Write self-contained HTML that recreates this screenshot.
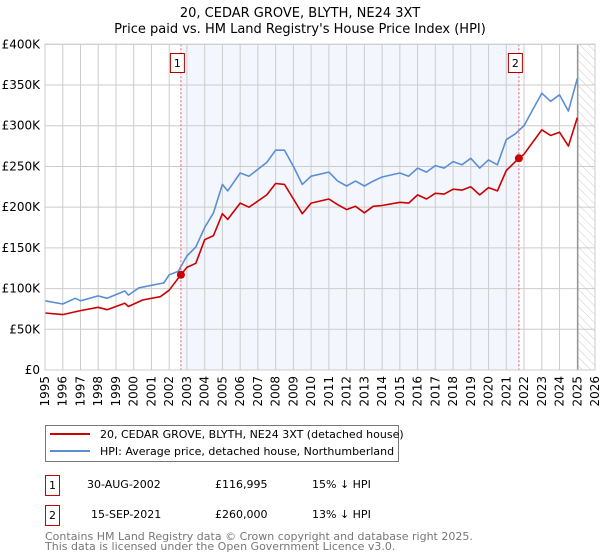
<!DOCTYPE html>
<html><head><meta charset="utf-8"><style>
body{margin:0;background:#fff;}
svg{display:block;font-family:"DejaVu Sans","Liberation Sans",sans-serif;}
</style></head><body>
<svg id="chart" width="600" height="560" viewBox="0 0 600 560">
<defs>
<pattern id="hatch" width="6" height="6" patternUnits="userSpaceOnUse" patternTransform="rotate(-45)">
<line x1="0" y1="0" x2="0" y2="6" stroke="#ccc" stroke-width="1"/>
</pattern>
</defs>
<text x="300" y="17" text-anchor="middle" font-size="13">20, CEDAR GROVE, BLYTH, NE24 3XT</text>
<text x="300" y="33" text-anchor="middle" font-size="13">Price paid vs. HM Land Registry's House Price Index (HPI)</text>
<g id="plot"></g>
<g>
<rect x="45.5" y="425.5" width="353" height="36" fill="#fff" stroke="#777"/>
<line x1="50" y1="434" x2="90" y2="434" stroke="#cc0000" stroke-width="2"/>
<text x="100" y="438" font-size="11">20, CEDAR GROVE, BLYTH, NE24 3XT (detached house)</text>
<line x1="50" y1="451" x2="90" y2="451" stroke="#5b8fd4" stroke-width="2"/>
<text x="100" y="455" font-size="11">HPI: Average price, detached house, Northumberland</text>
</g>
<g font-size="11">
<rect x="45.5" y="475.5" width="14" height="20" fill="#fff" stroke="#cc0000"/>
<text x="52.5" y="489" text-anchor="middle">1</text>
<text x="87" y="488">30-AUG-2002</text>
<text x="215" y="488">£116,995</text>
<text x="312" y="488">15% ↓ HPI</text>
<rect x="45.5" y="505.5" width="14" height="20" fill="#fff" stroke="#cc0000"/>
<text x="52.5" y="519" text-anchor="middle">2</text>
<text x="91" y="518">15-SEP-2021</text>
<text x="215" y="518">£260,000</text>
<text x="312" y="518">13% ↓ HPI</text>
</g>
<text x="45" y="540" font-size="11" fill="#777">Contains HM Land Registry data © Crown copyright and database right 2025.</text>
<text x="45" y="550" font-size="11" fill="#777">This data is licensed under the Open Government Licence v3.0.</text>
</svg>
<script>
const hpiYears=[1995,1996,1996.7,1997,1998,1998.5,1999.5,1999.7,2000.3,2001,2001.7,2002,2002.5,2003,2003.5,2004,2004.5,2005,2005.3,2006,2006.5,2007.5,2008,2008.5,2009,2009.5,2010,2011,2011.5,2012,2012.5,2013,2013.5,2014,2015,2015.5,2016,2016.5,2017,2017.5,2018,2018.5,2019,2019.5,2020,2020.5,2021,2021.5,2022,2022.5,2023,2023.5,2024,2024.5,2025];
const hpiValues=[85,81,88,85,91,88,97,92,101,104,107,117,121,140,151,175,193,228,220,242,238,255,270,270,250,228,238,243,232,226,232,226,232,237,242,238,248,243,251,248,256,252,260,248,258,252,283,290,300,320,340,330,338,318,358];
const ppYears=[1995,1996,1997,1998,1998.5,1999.5,1999.7,2000.5,2001.5,2002,2002.66,2003,2003.5,2004,2004.5,2005,2005.3,2006,2006.5,2007.5,2008,2008.5,2009,2009.5,2010,2011,2011.5,2012,2012.5,2013,2013.5,2014,2015,2015.5,2016,2016.5,2017,2017.5,2018,2018.5,2019,2019.5,2020,2020.5,2021,2021.7,2022,2022.5,2023,2023.5,2024,2024.5,2025];
const ppValues=[70,68,73,77,74,82,78,86,90,98,117,126,131,160,165,192,185,205,200,215,229,228,210,192,205,210,203,197,201,193,201,202,206,205,215,210,217,216,222,221,225,215,224,220,245,260,265,280,295,288,292,275,310];
const saleYears=[2002.66,2021.71];
const saleValues=[116.995,260];
const saleLabels=["1","2"];
const yTicks=[0,50,100,150,200,250,300,350,400];
const yTickLabels=["£0","£50K","£100K","£150K","£200K","£250K","£300K","£350K","£400K"];
const xTicks=[1995,1996,1997,1998,1999,2000,2001,2002,2003,2004,2005,2006,2007,2008,2009,2010,2011,2012,2013,2014,2015,2016,2017,2018,2019,2020,2021,2022,2023,2024,2025,2026];
const X0=45,X1=595,Y0=370,Y1=44.3;
const xs=y=>X0+(y-1995)/31*(X1-X0);
const ys=v=>Y0-v/400*(Y0-Y1);
const NS="http://www.w3.org/2000/svg";
const g=document.getElementById('plot');
function mk(t,a){const e=document.createElementNS(NS,t);for(const k in a)e.setAttribute(k,a[k]);g.appendChild(e);return e;}
let e=mk('rect',{x:xs(saleYears[0]),y:Y1,width:xs(saleYears[1])-xs(saleYears[0]),height:Y0-Y1,fill:'#eef2fc',opacity:0.7});


e=mk('rect',{x:xs(2025.03),y:Y1,width:X1-xs(2025.03),height:Y0-Y1,fill:'url(#hatch)'});


xTicks.forEach(t=>{
 let l=mk('line',{x1:xs(t),x2:xs(t),y1:Y1,y2:Y0,stroke:'#ccc','stroke-width':1});
 
 
 const x=xs(t)+4;
 let tx=mk('text',{x:x,y:376,'font-size':12,'text-anchor':'end',transform:`rotate(-90 ${x} 376)`});
 tx.textContent=t;
 
 
});
yTicks.forEach((t,i)=>{
 let l=mk('line',{x1:X0,x2:X1,y1:ys(t),y2:ys(t),stroke:'#ccc','stroke-width':1});
 
 
 let tx=mk('text',{x:40,y:ys(t)+4,'font-size':12,'text-anchor':'end'});
 tx.textContent=yTickLabels[i];
 
 
});
e=mk('line',{x1:xs(2025.03),x2:xs(2025.03),y1:Y1,y2:Y0,stroke:'#888','stroke-width':1.2});


function path(xa,va,c,n){
 const d=xa.map((y,i)=>(i?'L':'M')+xs(y).toFixed(1)+','+ys(va[i]).toFixed(1)).join('');
 const p=mk('path',{d:d,fill:'none',stroke:c,'stroke-width':1.6,'stroke-linejoin':'round'});
 
 
}
path(hpiYears,hpiValues,'#5b8fd4','hpi-line');
path(ppYears,ppValues,'#cc0000','property-line');
saleYears.forEach((y,i)=>{
 let l=mk('line',{x1:xs(y),x2:xs(y),y1:Y1,y2:Y0,stroke:'#e06070','stroke-width':1,'stroke-dasharray':'2,2'});
 
 
 let c=mk('circle',{cx:xs(y),cy:ys(saleValues[i]),r:4,fill:'#cc0000'});
 
 
 let r=mk('rect',{x:xs(y)-10.5,y:53.5,width:14,height:19,fill:'#fff',stroke:'#aa0000'});
 
 
 let t=mk('text',{x:xs(y)-3.5,y:67,'font-size':11,'text-anchor':'middle'});
 t.textContent=saleLabels[i];
 
 
});
e=mk('rect',{x:X0,y:Y1,width:X1-X0,height:Y0-Y1,fill:'none',stroke:'#ccc'});


</script>
</body></html>
